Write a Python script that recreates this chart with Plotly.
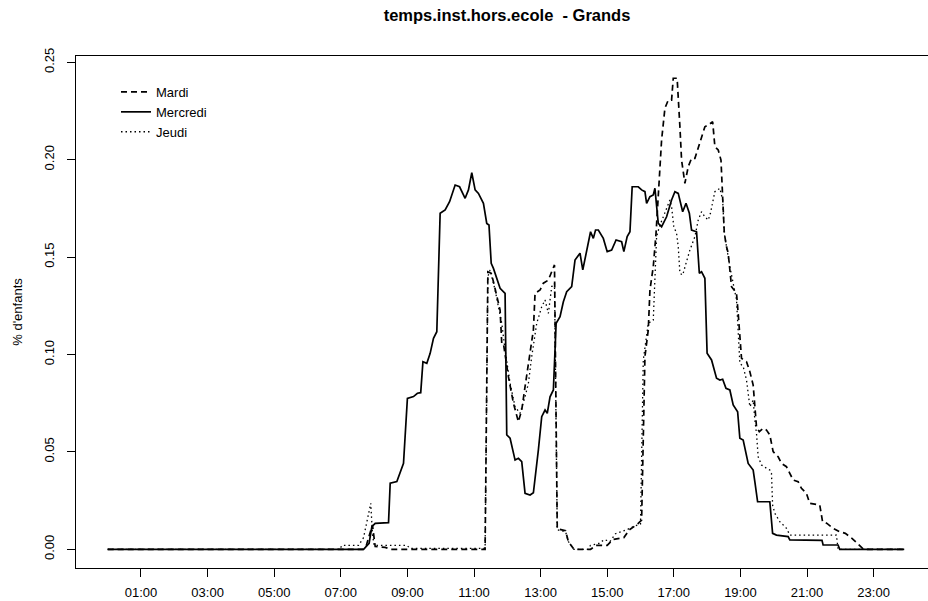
import plotly.graph_objects as go

# Time in minutes since midnight, values = share of children
mardi_t = [0, 460, 466, 477, 482, 500, 510, 680, 685, 691, 695, 701, 707, 710, 713, 722, 731, 740, 746, 752, 761, 767, 770, 779, 785, 794, 800, 805,
           810, 825, 830, 840, 870, 880, 900, 910, 930, 940, 955, 962, 968, 974, 977, 983, 988, 992, 998, 1004, 1010, 1016, 1019, 1026, 1028,
           1031, 1034, 1040, 1046, 1052, 1058, 1064, 1070, 1076, 1082, 1090, 1094, 1100, 1105, 1108, 1111, 1115, 1118, 1124, 1133, 1136, 1139,
           1142, 1151, 1157, 1163, 1166, 1169, 1174, 1181, 1187, 1193, 1199, 1208, 1214, 1223, 1229, 1235, 1244, 1250, 1259, 1265, 1283, 1288,
           1296, 1307, 1319, 1329, 1341, 1350, 1362, 1435]
mardi_v = [0, 0, 0.002, 0.0125, 0.0014, 0.001, 0, 0, 0.1425, 0.1417, 0.1374, 0.1297, 0.1228, 0.1057, 0.1057, 0.0886, 0.0750, 0.0655, 0.0715,
           0.0835, 0.1023, 0.1126, 0.1314, 0.1331, 0.1366, 0.1382, 0.1425, 0.1460,
           0.0105, 0.0095, 0.004, 0.0, 0.0, 0.002, 0.002, 0.005, 0.006, 0.010, 0.013, 0.015, 0.0989, 0.1126, 0.1331, 0.1451, 0.1622, 0.1827,
           0.2101, 0.2264, 0.2306, 0.2306, 0.2418, 0.2418, 0.2290, 0.2169, 0.1998, 0.1879, 0.1964, 0.2007, 0.2007, 0.2059, 0.2110, 0.2169,
           0.2178, 0.2195, 0.2067, 0.2050, 0.1998, 0.1827, 0.1622, 0.1553, 0.1520, 0.1348, 0.1314, 0.1211, 0.1109, 0.0980, 0.0963, 0.0912,
           0.0843, 0.0715, 0.0629, 0.0604, 0.0621, 0.0612, 0.0587, 0.0501, 0.0475, 0.0441, 0.0424, 0.0390, 0.0356, 0.0347, 0.0313, 0.0287,
           0.0236, 0.0227, 0.0142, 0.0133, 0.0108, 0.0090, 0.0082, 0.0056, 0.0031, 0.0, 0.0]

mercredi_t = [0, 461, 471, 476, 482, 506, 509, 521, 533, 540, 551, 558, 564, 568, 575, 581, 587, 593, 599, 608, 616, 626, 634, 644, 650, 656,
              662, 668, 677, 683, 687, 691, 695, 701, 707, 716, 719, 725, 734, 740, 746, 752, 761, 767, 772, 776, 782, 788, 792, 797, 803, 808,
              815, 821, 827, 836, 842, 851, 856, 860, 866, 870, 875, 879, 884, 893, 900, 908, 916, 926, 930, 936, 941, 945, 956, 962, 968, 971,
              977, 983, 986, 992, 998, 1007, 1016, 1022, 1028, 1036, 1042, 1048, 1052, 1061, 1066, 1070, 1076, 1080, 1088, 1097, 1103, 1108,
              1114, 1121, 1127, 1135, 1139, 1145, 1154, 1163, 1166, 1171, 1193, 1198, 1205, 1226, 1229, 1287, 1289, 1316, 1319, 1435]
mercredi_v = [0, 0, 0.0031, 0.0116, 0.0133, 0.0137, 0.0339, 0.0348, 0.0441, 0.0775, 0.0784, 0.0801, 0.0804, 0.0963, 0.0955, 0.1006, 0.1083,
              0.1117, 0.1725, 0.1742, 0.1784, 0.1870, 0.1861, 0.1802, 0.1845, 0.1933, 0.1845, 0.1827, 0.1776, 0.1673, 0.1665, 0.1468, 0.1442,
              0.1391, 0.1340, 0.1314, 0.0587, 0.0570, 0.0458, 0.0467, 0.0450, 0.0287, 0.0279, 0.029, 0.040, 0.051, 0.0681, 0.0715, 0.0698,
              0.0783, 0.0818, 0.1160, 0.1194, 0.1271, 0.1322, 0.1348, 0.1485, 0.1520, 0.1434, 0.1485, 0.1571, 0.1630, 0.1596, 0.1639, 0.1639,
              0.1596, 0.1528, 0.1536, 0.1588, 0.1579, 0.1528, 0.1605, 0.1630, 0.1861, 0.1861, 0.1845, 0.1836, 0.1776, 0.1810, 0.1819, 0.1853,
              0.1673, 0.1656, 0.1707, 0.1793, 0.1836, 0.1827, 0.1733, 0.1776, 0.1725, 0.1639, 0.1630, 0.1417, 0.1425, 0.1391, 0.1006, 0.0972,
              0.0878, 0.0869, 0.0873, 0.0826, 0.0818, 0.0741, 0.0706, 0.0570, 0.0561, 0.0441, 0.0407, 0.0347, 0.0244, 0.0244, 0.0082, 0.0073,
              0.0065, 0.0048, 0.0046, 0.0022, 0.0022, 0.0, 0.0]

jeudi_t = [0, 418, 422, 452, 461, 470, 474, 477, 480, 539, 545, 680, 685, 689, 698, 704, 710, 716, 725, 734, 743, 752, 758, 764, 773, 782, 788,
           794, 800, 805, 810, 825, 830, 840, 865, 870, 885, 895, 905, 915, 935, 950, 960, 965, 974, 983, 986, 989, 994, 1001, 1007, 1013,
           1016, 1020, 1025, 1028, 1031, 1036, 1042, 1049, 1058, 1064, 1070, 1076, 1082, 1086, 1094, 1103, 1108, 1111, 1115, 1121, 1133,
           1139, 1145, 1151, 1157, 1163, 1166, 1169, 1172, 1178, 1187, 1193, 1196, 1198, 1202, 1211, 1223, 1229, 1313, 1316, 1435]
jeudi_v = [0, 0, 0.002, 0.002, 0.006, 0.018, 0.0236, 0.008, 0.002, 0.002, 0.0005, 0.0005, 0.1400, 0.1434, 0.1331, 0.1245, 0.1160, 0.1023,
           0.0852, 0.0732, 0.0698, 0.0783, 0.0852, 0.0989, 0.1160, 0.1245, 0.1280, 0.1211, 0.1348, 0.1366, 0.010, 0.009, 0.004, 0.0, 0.0,
           0.002, 0.003, 0.005, 0.004, 0.008, 0.010, 0.012, 0.013, 0.0972, 0.1160, 0.1177, 0.1417, 0.1605, 0.1656, 0.1707, 0.1759, 0.1793,
           0.1759, 0.1656, 0.1622, 0.1553, 0.1417, 0.1408, 0.1468, 0.1536, 0.1605, 0.1690, 0.1733, 0.1707, 0.1690, 0.1725, 0.1836, 0.1853,
           0.1793, 0.1622, 0.1553, 0.1451, 0.1280, 0.0955, 0.0938, 0.0869, 0.0732, 0.0766, 0.0664, 0.0595, 0.0475, 0.0433, 0.0416, 0.0407,
           0.0390, 0.0227, 0.0185, 0.0142, 0.0108, 0.0073, 0.0073, 0.0, 0.0]

tick_minutes = [60, 180, 300, 420, 540, 660, 780, 900, 1020, 1140, 1260, 1380]
tick_labels = ["01:00", "03:00", "05:00", "07:00", "09:00", "11:00", "13:00", "15:00", "17:00", "19:00", "21:00", "23:00"]
y_ticks = [0.00, 0.05, 0.10, 0.15, 0.20, 0.25]
y_tick_labels = ["0.00", "0.05", "0.10", "0.15", "0.20", "0.25"]

FONT = "Liberation Sans, Arial, sans-serif"

fig = go.Figure()
fig.add_trace(go.Scatter(x=mardi_t, y=mardi_v, mode="lines", name="Mardi",
                         line=dict(color="black", width=1.7, dash="6px,4px")))
fig.add_trace(go.Scatter(x=mercredi_t, y=mercredi_v, mode="lines", name="Mercredi",
                         line=dict(color="black", width=1.7)))
fig.add_trace(go.Scatter(x=jeudi_t, y=jeudi_v, mode="lines", name="Jeudi",
                         line=dict(color="black", width=1.3, dash="1.5px,3px")))

fig.update_layout(
    width=928, height=601,
    margin=dict(l=76, r=0, t=56, b=33, pad=0),
    paper_bgcolor="white", plot_bgcolor="white",
    font=dict(family=FONT, size=13, color="black"),
    title=dict(text="<b>temps.inst.hors.ecole  - Grands</b>", x=507 / 928, xanchor="center",
               y=1 - 15 / 601, yanchor="middle", font=dict(size=16.5, family=FONT, color="black")),
    showlegend=True,
    legend=dict(x=(116 - 76) / 852, y=1 - (77 - 56) / 512, xanchor="left", yanchor="top",
                bgcolor="rgba(0,0,0,0)", borderwidth=0, font=dict(size=13, family=FONT),
                itemwidth=30, tracegroupgap=0),
    hovermode=False,
)
fig.update_xaxes(range=[-57.1, 1478.0], tickmode="array", tickvals=tick_minutes, ticktext=tick_labels,
                 showgrid=False, zeroline=False, showline=True, linecolor="black", linewidth=1,
                 mirror=True, ticks="outside", ticklen=8, tickcolor="black", tickwidth=1,
                 ticklabelstandoff=4, tickfont=dict(size=13, family=FONT))
fig.update_yaxes(range=[-0.0096, 0.25323], tickmode="array", tickvals=y_ticks, ticktext=y_tick_labels,
                 showgrid=False, zeroline=False, showline=True, linecolor="black", linewidth=1,
                 ticks="outside", ticklen=8, tickcolor="black", tickwidth=1, tickangle=-90,
                 ticklabelstandoff=8, tickfont=dict(size=13, family=FONT),
                 title=dict(text="% d'enfants", font=dict(size=13, family=FONT), standoff=16))

fig.write_html("out.html", config={"displayModeBar": False},
               post_script="document.body.style.margin='0';document.body.style.overflow='hidden';")
